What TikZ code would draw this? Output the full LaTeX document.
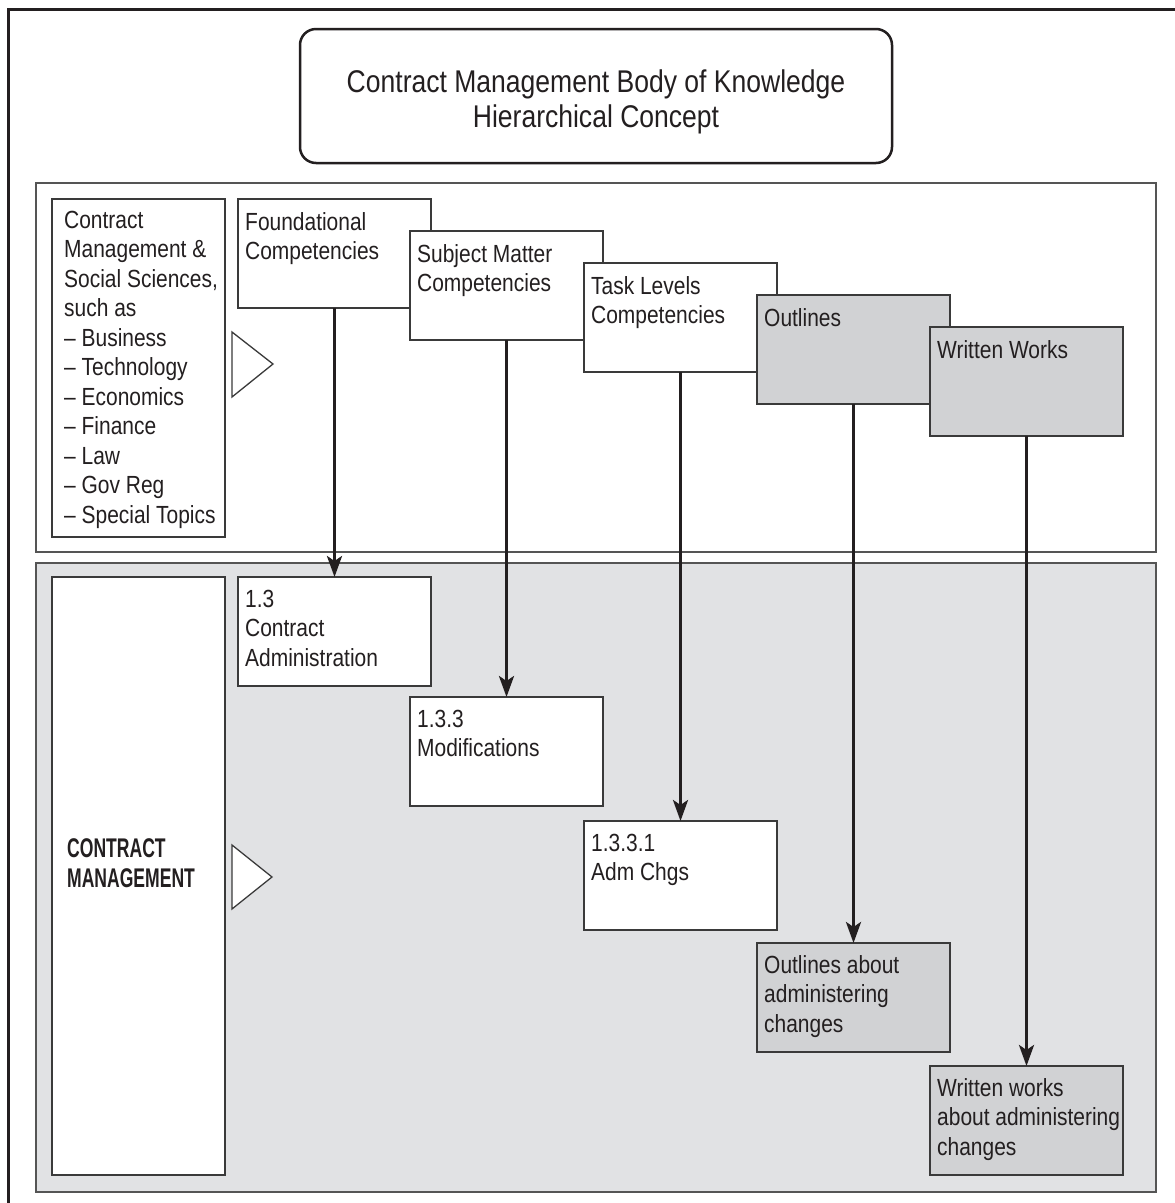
\documentclass[tikz,border=0pt]{standalone}
\usepackage{fontspec}
\setmainfont[FakeStretch=0.845]{Liberation Sans}
\newfontfamily\cmboldfont[FakeStretch=0.65]{Liberation Sans}
\usetikzlibrary{arrows.meta}
\definecolor{ink}{HTML}{231F20}
\definecolor{boxline}{HTML}{3A3A3A}
\definecolor{panelline}{HTML}{555555}
\definecolor{panelgray}{HTML}{E1E2E4}
\definecolor{boxgray}{HTML}{D1D2D4}
\tikzset{
  panel/.style={draw=panelline, line width=2pt, anchor=north west, inner sep=0pt, outer sep=0pt},
  box/.style={draw=boxline, line width=1.5pt, fill=white, anchor=north west, inner sep=0pt, outer sep=0pt, minimum width=193pt, minimum height=109pt},
  graybox/.style={box, fill=boxgray},
  lbl/.style={anchor=base west, inner sep=0pt, text=ink, font=\fontsize{24.8}{29.5}\selectfont},
  conn/.style={draw=ink, line width=3.2pt, -{Stealth[length=21pt,width=15pt,inset=5pt]}},
  tri/.style={draw=boxline, line width=1.3pt, fill=white, line join=miter}
}
\newcommand{\lines}[1]{\parbox[t]{300pt}{\raggedright #1}}
\begin{document}
\begin{tikzpicture}[x=1pt,y=-1pt]
\useasboundingbox (0,0) rectangle (1175,1203);
\fill[white] (0,0) rectangle (1175,1203);
% outer frame (clipped by page)
\draw[ink, line width=3pt] (8,1203) -- (8,9) -- (1175,9);
% title
\node[draw=ink, line width=2.5pt, rounded corners=16pt, anchor=north west, inner sep=0pt, outer sep=0pt,
      minimum width=592pt, minimum height=134pt] (title) at (300,29) {};
\node[anchor=base, inner sep=0pt, text=ink, font=\fontsize{31.4}{35}\selectfont] (titletext) at (596,92)
  {\parbox[t]{600pt}{\centering Contract Management Body of Knowledge\\Hierarchical Concept}};
% panels
\node[panel, fill=white, minimum width=1120pt, minimum height=369pt] (upper) at (36,183) {};
\node[panel, fill=panelgray, minimum width=1120pt, minimum height=629pt] (lower) at (36,563) {};
% left boxes
\node[box, minimum width=173pt, minimum height=338pt] (list) at (52,199) {};
\node[lbl] (listtext) at (64,228) {\lines{Contract\\Management \&\\Social Sciences,\\such as\\– Business\\– Technology\\– Economics\\– Finance\\– Law\\– Gov Reg\\– Special Topics}};
\node[box, minimum width=173pt, minimum height=598pt] (cm) at (52,577) {};
\node[anchor=base west, inner sep=0pt, text=ink, font=\cmboldfont\bfseries\fontsize{27}{30}\selectfont] (cmtext) at (67,857)
  {\parbox[t]{200pt}{CONTRACT\\MANAGEMENT}};
% triangles
\draw[tri] (232,332) -- (273,364) -- (232,397) -- cycle;
\draw[tri] (232,845) -- (272,877) -- (232,909) -- cycle;
% upper row boxes
\node[box] (found) at (238,199) {};
\node[lbl] (foundtext) at ([shift={(7,31)}]found.north west) {\lines{Foundational\\Competencies}};
\node[box] (subj) at (410,231) {};
\node[lbl] (subjtext) at ([shift={(7,31)}]subj.north west) {\lines{Subject Matter\\Competencies}};
\node[box] (task) at (584,263) {};
\node[lbl] (tasktext) at ([shift={(7,31)}]task.north west) {\lines{Task Levels\\Competencies}};
\node[graybox] (outl) at (757,295) {};
\node[lbl] (outltext) at ([shift={(7,31)}]outl.north west) {\lines{Outlines}};
\node[graybox] (writ) at (930,327) {};
\node[lbl] (writtext) at ([shift={(7,31)}]writ.north west) {\lines{Written Works}};
% lower row boxes
\node[box] (ca) at (238,577) {};
\node[lbl] (catext) at ([shift={(7,30)}]ca.north west) {\lines{1.3\\Contract\\Administration}};
\node[box] (mod) at (410,697) {};
\node[lbl] (modtext) at ([shift={(7,30)}]mod.north west) {\lines{1.3.3\\Modifications}};
\node[box] (adm) at (584,821) {};
\node[lbl] (admtext) at ([shift={(7,30)}]adm.north west) {\lines{1.3.3.1\\Adm Chgs}};
\node[graybox] (outla) at (757,943) {};
\node[lbl] (outlatext) at ([shift={(7,30)}]outla.north west) {\lines{Outlines about\\administering\\changes}};
\node[graybox] (writa) at (930,1066) {};
\node[lbl] (writatext) at ([shift={(7,30)}]writa.north west) {\lines{Written works\\about administering\\changes}};
% connectors
\draw[conn] (found.south) -- (ca.north);
\draw[conn] (subj.south) -- (mod.north);
\draw[conn] (task.south) -- (adm.north);
\draw[conn] (outl.south) -- (outla.north);
\draw[conn] (writ.south) -- (writa.north);
\end{tikzpicture}
\end{document}
